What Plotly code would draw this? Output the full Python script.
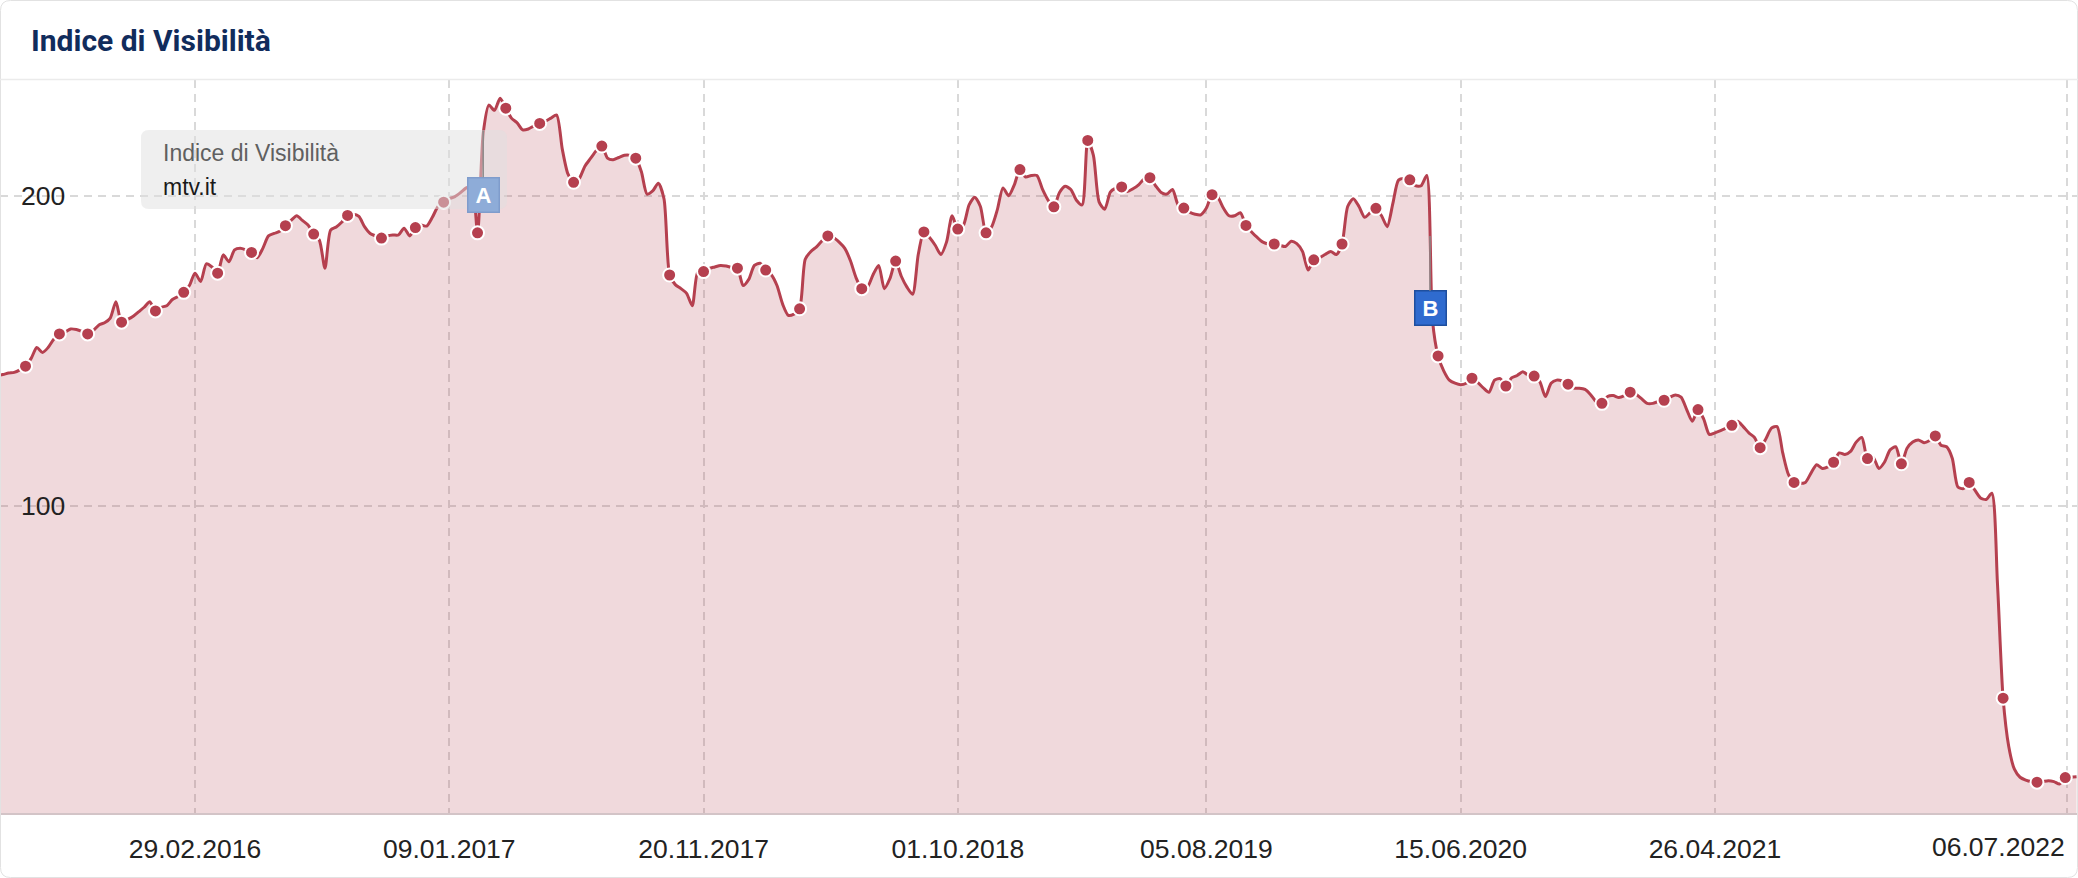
import pandas as pd
import plotly.graph_objects as go

# ---------------- data ----------------
start_week = "2015-06-29"
values = [
    142, 142.3, 142.8, 143, 143.8, 145, 147.5, 151, 149.4, 151,
    153.7, 155.4, 156, 157, 156.8, 156.2, 155.4, 156.5, 158.3, 159,
    160.5, 165.8, 159.2, 160, 161, 162.5, 164, 165.8, 162.8, 164,
    164.5, 166.5, 167.5, 168.8, 171, 175, 172.3, 178, 177, 175,
    180.9, 178.7, 182.5, 183, 182.5, 181.7, 180, 183, 187, 187.8,
    188.5, 190.3, 192, 193.5, 192, 190.5, 187.6, 185.7, 176.6, 188.9,
    189.9, 191.5, 193.6, 194, 193.3, 190, 187.8, 187, 186.3, 187,
    187.3, 187.3, 189.5, 187, 189.7, 190.5, 190.2, 193, 196.5, 197.9,
    199, 199.7, 201, 202.5, 203, 188, 220, 229.2, 227.5, 231.4,
    228.2, 225, 223.5, 221.2, 221.5, 222.5, 223.3, 224, 225, 226,
    215, 207, 204.3, 205.5, 209.5, 212, 214.5, 216, 212.1, 211.6,
    212.3, 213, 213, 212.1, 207.7, 200.5, 201.5, 204, 199, 174.4,
    171.3, 170, 168.5, 164.5, 175.5, 175.5, 176.5, 177, 177.5, 177.3,
    176.8, 176.6, 171, 173, 177.5, 178.2, 176, 174.5, 171, 165,
    161.4, 161.8, 163.5, 179.5, 182, 183.5, 185.5, 187, 186.5, 185,
    183, 179, 173.5, 170, 170.5, 174.5, 177.5, 170, 173.3, 178.9,
    174, 170.5, 168.2, 181, 188.3, 186.5, 184, 181, 185, 193.5,
    189.2, 190.5, 197, 199.5, 196.5, 188, 190, 195.5, 202.5, 200,
    203.5, 208.4, 206, 206.5, 206.5, 202, 198.5, 196.4, 201, 203,
    202, 198.5, 197, 217.8, 213, 198, 195.6, 201.1, 202.5, 202.8,
    201.3, 202.2, 203.5, 205.4, 205.8, 203.2, 201, 200.5, 202, 197,
    196, 194.7, 194, 193.8, 196, 200.3, 199.5, 196, 193.5, 193.5,
    194.5, 190.4, 188.3, 186.5, 185, 184.4, 184.4, 184, 183.6, 185.3,
    184.5, 182, 176, 179.3, 180, 181, 182, 181, 184.4, 196.5,
    199, 196.5, 193, 194.5, 195.9, 193.5, 190, 197.5, 205, 205.5,
    205.1, 203.2, 203.2, 206.5, 160, 148.3, 143.5, 140.5, 139.5, 139,
    139.5, 141.1, 139.8, 138, 136.6, 140.5, 141, 138.6, 141.2, 142,
    143.2, 142, 141.8, 140, 135.2, 139.5, 140.5, 140.2, 139.2, 137.9,
    137.9, 137.5, 135.8, 133.5, 133, 135.2, 135.5, 134.9, 135.5, 136.6,
    136, 134.5, 133, 133, 133.6, 134, 135, 135.7, 135, 131,
    127.2, 131, 128, 123, 123.5, 124.2, 125, 125.9, 127.2, 125.5,
    123.5, 122, 118.7, 121.5, 125, 125.5, 117, 110.1, 107.5, 107.2,
    107.5, 110.5, 113.2, 112, 112.5, 114, 117, 116.5, 117.5, 120.5,
    122, 115.2, 115.6, 112, 114, 118, 119, 113.5, 118.5, 120.5,
    121.2, 120.3, 121, 122.5, 119.5, 119, 115.3, 106, 105.5, 107.5,
    105, 102.5, 102, 104, 75, 37.9, 22.3, 15, 12.4, 11.5,
    11, 10.8, 11, 11.3, 11, 10.2, 12.3, 12.5, 12.6,
]
marker_idx = [5, 11, 16, 22, 28, 33, 39, 45, 51, 56, 62, 68, 74, 79, 85, 90,
              96, 102, 107, 113, 119, 125, 131, 136, 142, 147, 153, 159, 164,
              170, 175, 181, 187, 193, 199, 204, 210, 215, 221, 226, 233, 238,
              244, 250, 255, 261, 267, 272, 278, 284, 289, 295, 301, 307, 312,
              318, 325, 331, 337, 343, 349, 355, 361, 366]
tick_dates = ["2016-02-29", "2017-01-09", "2017-11-20", "2018-10-01",
              "2019-08-05", "2020-06-15", "2021-04-26", "2022-07-06"]
tick_labels = ["29.02.2016", "09.01.2017", "20.11.2017", "01.10.2018",
               "05.08.2019", "15.06.2020", "26.04.2021", "06.07.2022"]
y_ticks = [100, 200]
flag_names = ["A", "B"]
flag_dates = ["2017-02-20", "2020-05-08"]
flag_values = [221, 187]
title_text = "Indice di Visibilità"
tooltip_title = "Indice di Visibilità"
tooltip_domain = "mtv.it"

dates = pd.date_range(start_week, periods=len(values), freq="7D")

# ---------------- style ----------------
W, H = 2078, 878
TOP, BOTTOM = 80, 813
RED = "#b5404f"
FONT = "Liberation Sans, Arial, sans-serif"
GRID = "#d9d9d9"


def px(x):
    return x / W


def py(y):
    return (BOTTOM - y) / (BOTTOM - TOP)


def rrect(x0, y0, x1, y1, r):
    pts = [
        ("M", (x0 + r, y0)), ("L", (x1 - r, y0)), ("Q", (x1, y0), (x1, y0 + r)),
        ("L", (x1, y1 - r)), ("Q", (x1, y1), (x1 - r, y1)),
        ("L", (x0 + r, y1)), ("Q", (x0, y1), (x0, y1 - r)),
        ("L", (x0, y0 + r)), ("Q", (x0, y0), (x0 + r, y0)),
    ]
    s = ""
    for p in pts:
        s += p[0] + " " + " ".join(f"{px(a):.6f},{py(b):.6f}" for a, b in p[1:]) + " "
    return s + "Z"


fig = go.Figure()
fig.add_trace(go.Scatter(
    x=dates, y=values, mode="lines",
    line=dict(color=RED, width=3, shape="spline", smoothing=0.7),
    fill="tozeroy", fillcolor="rgba(181,65,79,0.2)", hoverinfo="skip",
))
fig.add_trace(go.Scatter(
    x=[dates[i] for i in marker_idx], y=[values[i] for i in marker_idx],
    mode="markers", hoverinfo="skip",
    marker=dict(size=13, color=RED, line=dict(color="white", width=2)),
))

shapes = [
    dict(type="path", xref="paper", yref="paper", layer="above",
         path=rrect(0.5, 0.5, W - 0.5, H - 0.5, 10),
         line=dict(color="#e2e2e2", width=1)),
    dict(type="line", xref="paper", yref="paper", layer="above",
         x0=px(0), x1=px(W), y0=py(79.5), y1=py(79.5),
         line=dict(color="#ebebeb", width=1.5)),
    dict(type="path", xref="paper", yref="paper", layer="above",
         path=rrect(141, 130, 507, 209, 8),
         fillcolor="rgba(223,223,223,0.5)", line=dict(width=0)),
]

annotations = [
    dict(xref="paper", yref="paper", x=px(29), y=py(40), xanchor="left",
         yanchor="middle", showarrow=False, text=f"<b>{title_text}</b>",
         font=dict(family="Roboto", size=30, color="#112c5c")),
    dict(xref="paper", yref="paper", x=px(161), y=py(153), xanchor="left",
         yanchor="middle", showarrow=False, text=tooltip_title,
         font=dict(family=FONT, size=23, color="#606060")),
    dict(xref="paper", yref="paper", x=px(161), y=py(187), xanchor="left",
         yanchor="middle", showarrow=False, text=tooltip_domain,
         font=dict(family=FONT, size=23, color="#1a1a1a")),
    dict(xref="x", yref="paper", x=tick_dates[-1], y=py(847), xanchor="right",
         yanchor="middle", showarrow=False, text=tick_labels[-1],
         font=dict(family=FONT, size=26.5, color="#222222")),
]
flag_style = {
    "A": dict(bg="#8eacd8", border="#7f9ccc", ay=64),
    "B": dict(bg="#2f6bcf", border="#1f4f9e", ay=72),
}
for name, d, v in zip(flag_names, flag_dates, flag_values):
    st = flag_style[name]
    annotations.append(dict(
        x=d, y=v, xref="x", yref="y", text=f"<b>{name}</b>", showarrow=True,
        arrowhead=0, arrowwidth=1.5, arrowcolor="#8a8a8a", ax=0, ay=st["ay"],
        standoff=0, bgcolor=st["bg"], bordercolor=st["border"], borderwidth=1.5,
        borderpad=0, width=30, height=33, valign="middle",
        font=dict(family=FONT, size=22, color="white"),
    ))

fig.update_layout(
    width=W, height=H,
    margin=dict(l=0, r=0, t=TOP, b=H - BOTTOM),
    paper_bgcolor="white", plot_bgcolor="white",
    showlegend=False, hovermode=False,
    shapes=shapes, annotations=annotations,
    xaxis=dict(
        type="date", range=["2015-07-02 09:36", "2022-07-19 19:00"],
        tickmode="array", tickvals=tick_dates,
        ticktext=tick_labels[:-1] + [""],
        showgrid=True, gridcolor=GRID, griddash="8px,6px", gridwidth=1.5,
        showline=True, linecolor="#d3c4c7", linewidth=2,
        ticks="", ticklabelstandoff=11, zeroline=False,
        tickfont=dict(family=FONT, size=26.5, color="#222222"),
    ),
    yaxis=dict(
        range=[0.87, 237.3], tickmode="array", tickvals=y_ticks,
        ticktext=[str(t) for t in y_ticks],
        ticklabelposition="inside", ticklabelstandoff=18,
        showgrid=True, gridcolor=GRID, griddash="8px,6px", gridwidth=1.5,
        zeroline=False, showline=False, ticks="",
        tickfont=dict(family=FONT, size=26.5, color="#222222"),
    ),
)

fig.write_html("out.html", config={"displayModeBar": False},
               post_script="document.body.style.margin='0';")
